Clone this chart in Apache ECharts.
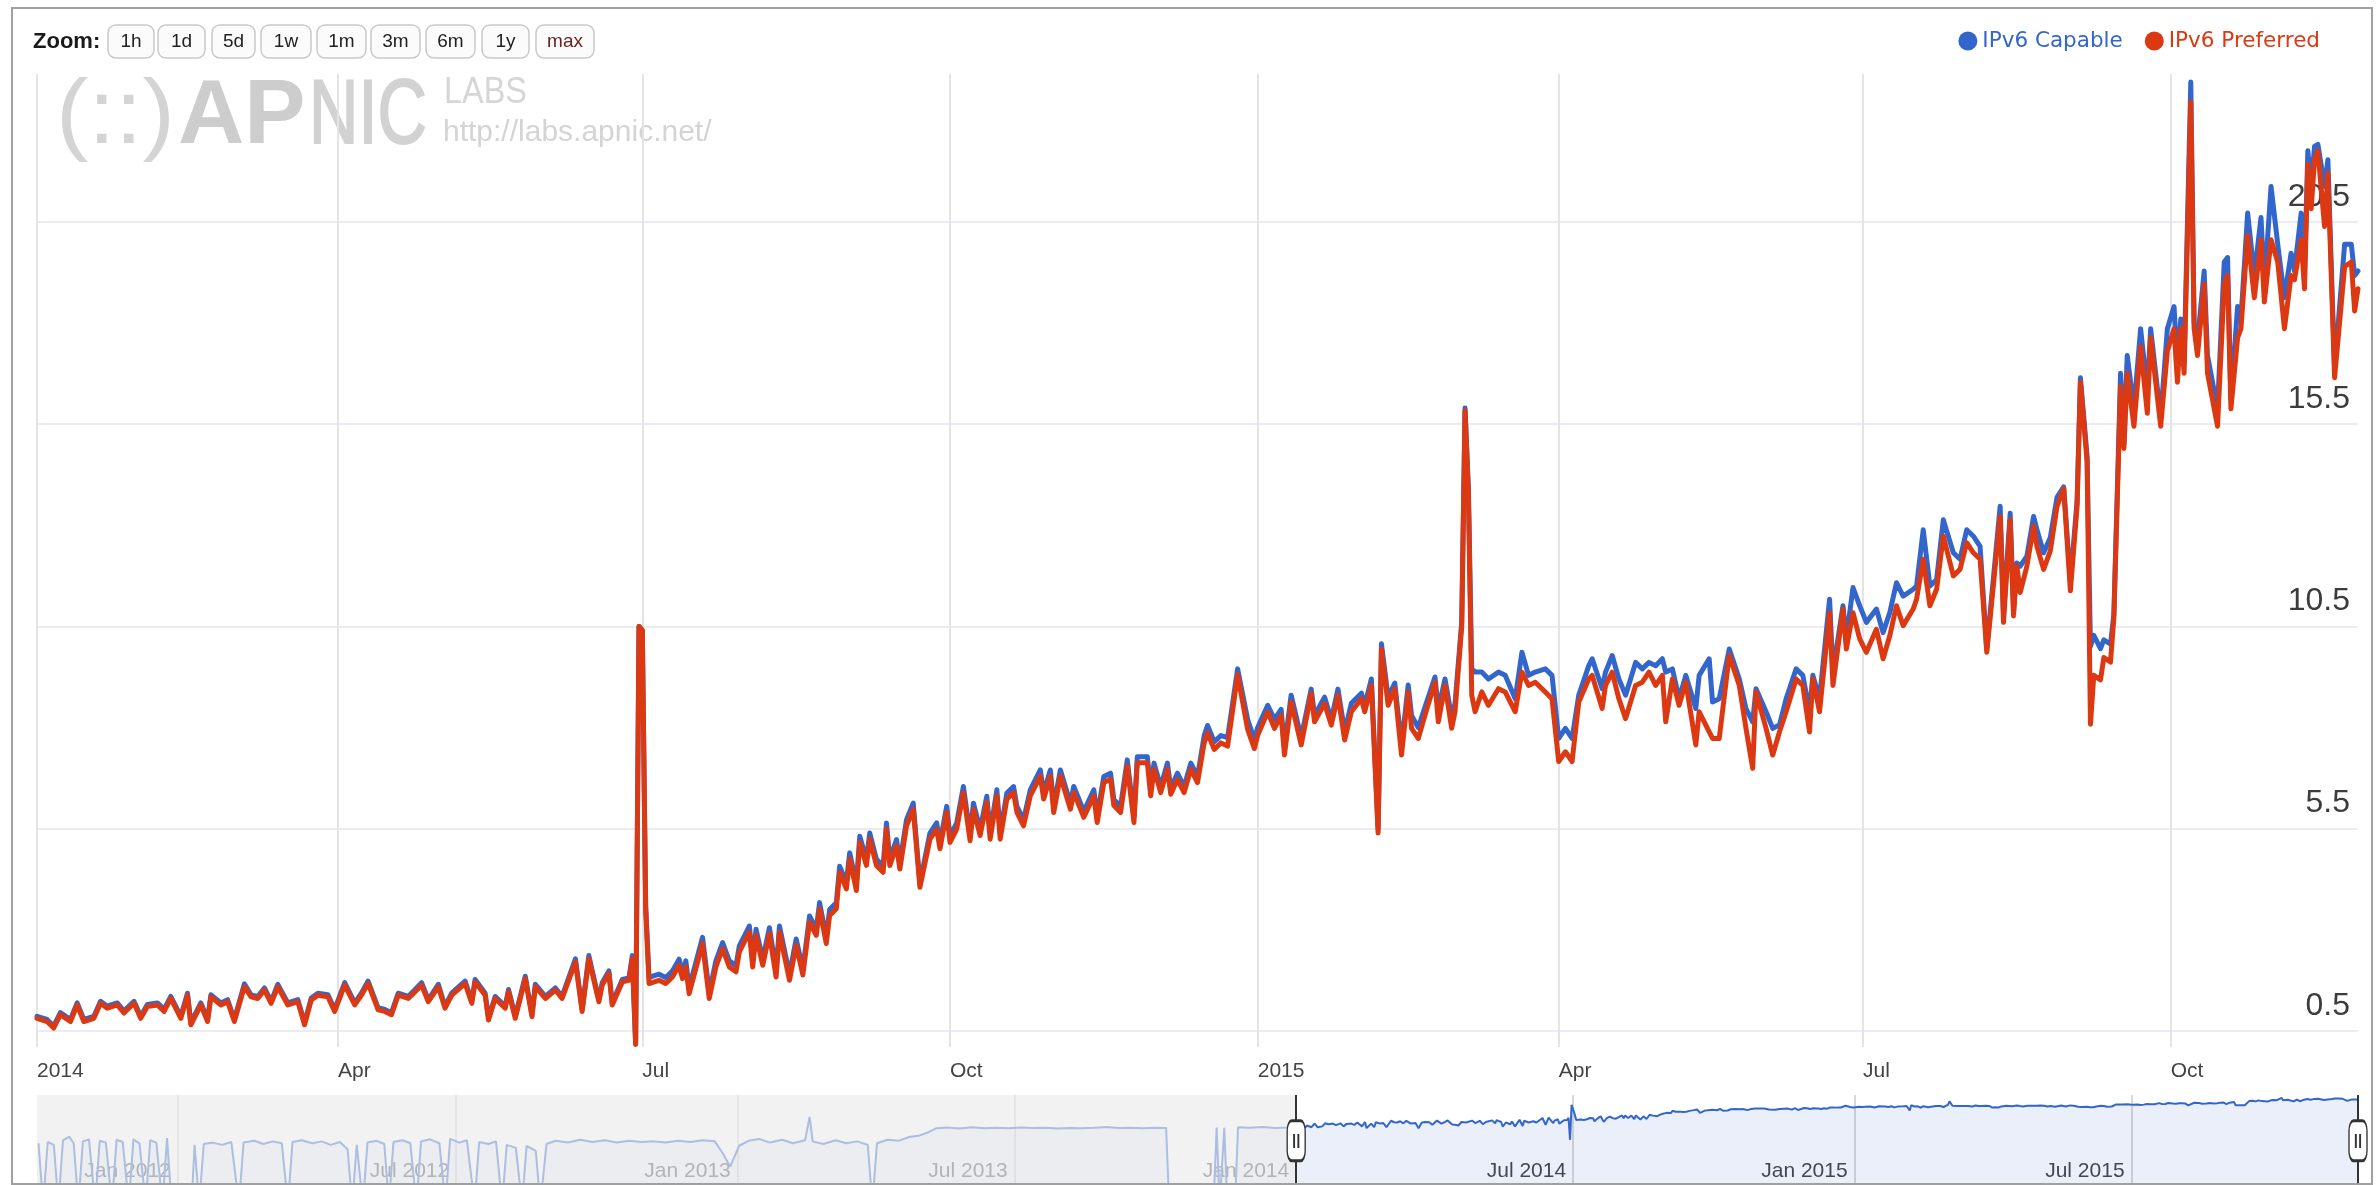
<!DOCTYPE html>
<html>
<head>
<meta charset="utf-8">
<script src="https://cdn.jsdelivr.net/npm/echarts@6/dist/echarts.min.js"></script>
<style>
html,body{margin:0;padding:0;background:#fff;}
#c{width:2377px;height:1185px;}
</style>
</head>
<body>
<div id="c"></div>
<script>
// ---- main chart data ----
const dates = [
'2014-01-01','2014-01-04','2014-01-06','2014-01-08','2014-01-11','2014-01-13','2014-01-15','2014-01-18','2014-01-20','2014-01-22','2014-01-25','2014-01-27','2014-01-30',
'2014-02-01','2014-02-03','2014-02-06','2014-02-08','2014-02-10','2014-02-13','2014-02-15','2014-02-16','2014-02-19','2014-02-21','2014-02-22','2014-02-25','2014-02-27',
'2014-03-01','2014-03-04','2014-03-06','2014-03-08','2014-03-10','2014-03-12','2014-03-14','2014-03-17','2014-03-20','2014-03-22','2014-03-24','2014-03-26','2014-03-29','2014-03-31',
'2014-04-03','2014-04-06','2014-04-08','2014-04-10','2014-04-13','2014-04-15','2014-04-17','2014-04-19','2014-04-22','2014-04-26','2014-04-28',
'2014-05-01','2014-05-03','2014-05-05','2014-05-09','2014-05-11','2014-05-12','2014-05-15','2014-05-16','2014-05-18','2014-05-21','2014-05-22','2014-05-24','2014-05-27','2014-05-29','2014-05-30',
'2014-06-02','2014-06-05','2014-06-07','2014-06-11','2014-06-13','2014-06-15','2014-06-18','2014-06-19','2014-06-21','2014-06-22','2014-06-25','2014-06-27','2014-06-28','2014-06-29','2014-06-30',
'2014-07-01','2014-07-02','2014-07-03','2014-07-06','2014-07-08','2014-07-10','2014-07-12','2014-07-13','2014-07-14','2014-07-15','2014-07-17','2014-07-19','2014-07-21','2014-07-23','2014-07-25','2014-07-27','2014-07-29','2014-07-30',
'2014-08-02','2014-08-03','2014-08-04','2014-08-06','2014-08-08','2014-08-10','2014-08-11','2014-08-14','2014-08-16','2014-08-18','2014-08-20','2014-08-22','2014-08-23','2014-08-25','2014-08-26','2014-08-28','2014-08-29','2014-08-31',
'2014-09-01','2014-09-03','2014-09-04','2014-09-06','2014-09-07','2014-09-09','2014-09-11','2014-09-12','2014-09-13','2014-09-15','2014-09-16','2014-09-18','2014-09-20','2014-09-22','2014-09-25','2014-09-27','2014-09-28','2014-09-30',
'2014-10-01','2014-10-03','2014-10-05','2014-10-07','2014-10-08','2014-10-10','2014-10-12','2014-10-13','2014-10-15','2014-10-16','2014-10-18','2014-10-20','2014-10-21','2014-10-23','2014-10-25','2014-10-28','2014-10-29','2014-10-31',
'2014-11-01','2014-11-03','2014-11-06','2014-11-07','2014-11-10','2014-11-13','2014-11-14','2014-11-16','2014-11-18','2014-11-19','2014-11-21','2014-11-23','2014-11-25','2014-11-26','2014-11-29','2014-11-30',
'2014-12-01','2014-12-03','2014-12-05','2014-12-06','2014-12-08','2014-12-10','2014-12-12','2014-12-14','2014-12-16','2014-12-17','2014-12-19','2014-12-21','2014-12-23','2014-12-26','2014-12-29','2014-12-31',
'2015-01-01','2015-01-04','2015-01-06','2015-01-08','2015-01-09','2015-01-11','2015-01-14','2015-01-17','2015-01-18','2015-01-21','2015-01-23','2015-01-25','2015-01-27','2015-01-29',
'2015-02-01','2015-02-02','2015-02-04','2015-02-06','2015-02-07','2015-02-09','2015-02-11','2015-02-13','2015-02-15','2015-02-16','2015-02-18','2015-02-20','2015-02-23','2015-02-24','2015-02-26','2015-02-28',
'2015-03-01','2015-03-03','2015-03-04','2015-03-05','2015-03-06','2015-03-07','2015-03-09','2015-03-11','2015-03-14','2015-03-16','2015-03-19','2015-03-21','2015-03-23','2015-03-25','2015-03-28','2015-03-30',
'2015-04-01','2015-04-03','2015-04-05','2015-04-07','2015-04-10','2015-04-11','2015-04-14','2015-04-15','2015-04-17','2015-04-19','2015-04-21','2015-04-24','2015-04-26','2015-04-28','2015-04-30',
'2015-05-02','2015-05-03','2015-05-05','2015-05-07','2015-05-09','2015-05-12','2015-05-13','2015-05-16','2015-05-17','2015-05-19','2015-05-22','2015-05-25','2015-05-27','2015-05-29','2015-05-30',
'2015-06-02','2015-06-04','2015-06-06','2015-06-08','2015-06-11','2015-06-13','2015-06-15','2015-06-16','2015-06-18','2015-06-21','2015-06-22','2015-06-25','2015-06-26','2015-06-28','2015-06-30',
'2015-07-02','2015-07-05','2015-07-07','2015-07-09','2015-07-11','2015-07-13','2015-07-16','2015-07-17','2015-07-19','2015-07-21','2015-07-23','2015-07-25','2015-07-28','2015-07-30',
'2015-08-01','2015-08-03','2015-08-05','2015-08-07','2015-08-11','2015-08-12','2015-08-14','2015-08-15','2015-08-16','2015-08-17','2015-08-19','2015-08-21','2015-08-22','2015-08-24','2015-08-26','2015-08-28','2015-08-30',
'2015-09-01','2015-09-03','2015-09-04','2015-09-06','2015-09-07','2015-09-08','2015-09-10','2015-09-11','2015-09-13','2015-09-14','2015-09-16','2015-09-17','2015-09-18','2015-09-20','2015-09-22','2015-09-24','2015-09-25','2015-09-28','2015-09-30',
'2015-10-02','2015-10-03','2015-10-04','2015-10-05','2015-10-07','2015-10-08','2015-10-09','2015-10-11','2015-10-12','2015-10-15','2015-10-17','2015-10-18','2015-10-19','2015-10-21','2015-10-22','2015-10-24','2015-10-26','2015-10-28','2015-10-29','2015-10-31',
'2015-11-02','2015-11-04','2015-11-06','2015-11-07','2015-11-09','2015-11-10','2015-11-11','2015-11-12','2015-11-13','2015-11-14','2015-11-16','2015-11-17','2015-11-19','2015-11-22','2015-11-24','2015-11-25','2015-11-26'
];
const capable = [
0.86,0.78,0.62,0.95,0.78,1.19,0.78,0.86,1.23,1.11,1.19,0.99,1.23,
0.86,1.15,1.19,1.03,1.35,0.86,1.43,0.70,1.19,0.78,1.39,1.19,1.27,
0.78,1.66,1.39,1.35,1.56,1.23,1.65,1.19,1.27,0.70,1.31,1.43,1.39,1.03,
1.69,1.19,1.43,1.73,1.07,1.03,0.95,1.43,1.35,1.69,1.27,
1.65,1.11,1.43,1.73,1.23,1.77,1.43,0.82,1.35,1.11,1.52,0.86,1.85,0.90,1.65,
1.35,1.56,1.35,2.28,1.03,2.36,1.27,1.69,1.98,1.19,1.77,1.81,2.36,0.18,10.5,
10.4,3.6,1.82,1.90,1.82,1.98,2.27,1.94,2.23,1.57,2.19,2.81,1.45,2.23,2.68,2.23,2.11,2.60,
3.09,2.23,3.01,2.27,3.05,1.98,3.09,1.90,2.77,2.03,3.34,3.01,3.67,2.81,3.50,3.67,4.57,4.16,
4.90,4.12,5.31,4.74,5.39,4.74,4.57,5.64,4.74,5.23,4.65,5.72,6.13,4.15,5.39,5.64,5.15,6.05,
5.31,5.64,6.54,5.35,6.13,5.48,6.30,5.39,6.46,5.39,6.38,6.54,6.05,5.72,6.46,6.95,6.38,6.95,
6.05,6.95,6.13,6.54,5.93,6.46,5.80,6.79,6.87,6.22,6.05,7.20,5.80,7.28,7.28,6.46,
7.12,6.54,7.12,6.50,6.87,6.54,7.12,6.79,7.80,8.05,7.65,7.80,7.75,9.45,8.20,7.70,
8.00,8.55,8.20,8.45,7.50,8.80,7.75,8.95,8.30,8.75,8.20,8.95,7.90,8.60,
8.85,8.55,9.20,5.50,10.07,8.75,9.10,7.55,9.05,8.30,8.00,8.50,9.25,8.45,9.20,8.25,
8.60,10.6,15.9,13.9,9.45,9.37,9.37,9.20,9.37,9.29,8.71,9.86,9.29,9.37,9.45,9.29,
7.73,7.98,7.73,8.80,9.53,9.70,8.96,9.37,9.78,9.20,8.80,9.61,9.45,9.61,9.53,
9.70,9.37,9.45,8.71,9.29,8.47,9.29,9.70,8.63,8.71,9.94,9.20,8.47,8.14,8.96,
8.39,7.98,8.06,8.71,9.45,9.29,8.39,9.29,8.71,11.17,9.37,11.01,10.19,11.46,11.01,
10.60,10.93,10.35,10.84,11.58,11.25,11.42,11.50,12.89,11.50,11.66,13.14,12.32,12.16,
12.89,12.73,12.48,9.94,13.47,10.80,13.30,10.90,12.07,11.99,12.24,13.22,12.89,12.32,12.70,13.69,13.95,
11.60,13.60,16.65,14.70,10.00,10.28,9.95,10.17,10.06,10.80,16.76,15.00,17.20,15.88,17.86,16.32,17.86,15.66,17.86,
18.41,16.90,18.10,17.00,23.96,18.00,17.53,19.29,17.20,15.88,19.51,19.62,16.10,18.41,18.10,20.72,19.18,20.61,18.90,21.38,
19.95,18.63,19.73,19.29,20.72,19.20,22.26,21.38,22.37,22.42,21.38,22.04,16.87,19.95,19.95,19.18,19.29
];
const preferred = [
0.81,0.73,0.57,0.90,0.73,1.14,0.73,0.81,1.18,1.06,1.14,0.94,1.18,
0.81,1.10,1.14,0.98,1.30,0.81,1.38,0.65,1.14,0.73,1.34,1.14,1.22,
0.73,1.59,1.34,1.30,1.51,1.18,1.59,1.14,1.22,0.65,1.26,1.38,1.34,0.98,
1.63,1.14,1.38,1.67,1.02,0.98,0.90,1.38,1.30,1.63,1.22,
1.59,1.06,1.38,1.67,1.18,1.71,1.38,0.77,1.30,1.06,1.47,0.81,1.79,0.85,1.59,
1.30,1.51,1.30,2.20,0.98,2.28,1.22,1.63,1.92,1.14,1.71,1.75,2.28,0.16,10.5,
10.4,3.5,1.67,1.75,1.67,1.83,2.12,1.79,2.08,1.42,2.04,2.66,1.30,2.08,2.53,2.08,1.96,2.45,
2.94,2.08,2.86,2.12,2.90,1.83,2.94,1.75,2.62,1.88,3.19,2.86,3.52,2.66,3.35,3.52,4.42,4.01,
4.75,3.97,5.16,4.59,5.24,4.59,4.42,5.49,4.59,5.08,4.50,5.57,5.98,4.05,5.24,5.49,5.00,5.90,
5.16,5.49,6.39,5.20,5.98,5.33,6.15,5.24,6.31,5.24,6.23,6.39,5.90,5.57,6.31,6.80,6.23,6.80,
5.90,6.80,5.98,6.39,5.78,6.31,5.65,6.64,6.72,6.07,5.90,7.05,5.65,7.13,7.13,6.31,
6.97,6.39,6.97,6.35,6.72,6.39,6.97,6.64,7.62,7.87,7.46,7.62,7.54,9.31,7.95,7.48,
7.81,8.39,7.98,8.30,7.32,8.63,7.57,8.84,8.14,8.59,8.06,8.80,7.69,8.39,
8.71,8.39,9.04,5.39,9.94,8.55,8.96,7.32,8.88,7.98,7.73,8.30,9.12,8.14,9.04,7.98,
8.39,10.5,15.84,13.8,8.80,8.39,8.88,8.55,8.96,8.88,8.39,9.37,9.04,9.12,8.88,8.71,
7.16,7.40,7.16,8.63,9.20,9.29,8.47,9.04,9.37,8.71,8.22,9.04,9.12,9.37,9.04,
9.29,8.14,9.20,8.55,9.12,7.57,8.39,7.89,7.73,7.73,9.78,9.04,7.98,6.99,8.88,
7.98,7.32,7.89,8.39,9.20,9.04,7.89,9.20,8.39,10.84,9.04,10.93,9.94,10.84,10.19,
9.86,10.43,9.70,10.27,11.01,10.52,10.93,11.17,12.16,11.01,11.42,12.73,11.75,11.91,
12.57,12.32,12.16,9.86,13.22,10.60,13.14,10.76,11.99,11.34,11.99,12.98,12.48,11.91,12.37,13.47,13.91,
11.38,13.47,16.54,14.57,8.08,9.29,9.18,9.73,9.62,10.72,16.43,14.90,16.76,15.45,17.42,15.77,17.64,15.45,17.31,
17.86,16.54,17.86,16.76,23.47,17.86,17.20,18.96,16.76,15.45,18.96,19.18,15.88,17.64,17.86,20.17,18.63,20.06,18.52,20.06,
19.51,17.86,19.18,19.07,20.06,18.85,21.93,20.83,22.04,22.26,20.39,21.71,16.65,19.40,19.51,18.30,18.85
];
// navigator: earlier history (IPv6 Capable), near-zero drops shown as 0.0001
const navOldDates = [
'2011-10-02','2011-10-05','2011-10-08','2011-10-12','2011-10-15','2011-10-18','2011-10-22','2011-10-25','2011-10-28','2011-10-31',
'2011-11-04','2011-11-08','2011-11-11','2011-11-15','2011-11-19','2011-11-22','2011-11-26','2011-11-30',
'2011-12-03','2011-12-07','2011-12-11','2011-12-14','2011-12-18','2011-12-22','2011-12-25','2011-12-28',
'2012-01-10','2012-01-12','2012-01-15','2012-01-18','2012-01-24','2012-01-30','2012-02-05','2012-02-10','2012-02-13','2012-02-20','2012-02-26',
'2012-03-03','2012-03-09','2012-03-13','2012-03-16','2012-03-22','2012-03-29','2012-04-04','2012-04-10','2012-04-16','2012-04-21','2012-04-24','2012-04-27',
'2012-05-01','2012-05-04','2012-05-10','2012-05-15','2012-05-18','2012-05-21','2012-05-27','2012-06-01','2012-06-05','2012-06-08','2012-06-14','2012-06-20','2012-06-24','2012-06-27',
'2012-07-03','2012-07-08','2012-07-13','2012-07-16','2012-07-22','2012-07-27','2012-07-31','2012-08-03','2012-08-09','2012-08-13','2012-08-16','2012-08-22','2012-08-25','2012-08-29',
'2012-09-04','2012-09-12','2012-09-20','2012-09-28','2012-10-06','2012-10-14','2012-10-22','2012-10-30','2012-11-07','2012-11-15','2012-11-23','2012-12-01','2012-12-09','2012-12-17','2012-12-22','2012-12-27',
'2013-01-02','2013-01-08','2013-01-15','2013-01-22','2013-01-30','2013-02-06','2013-02-14','2013-02-17','2013-02-19','2013-02-26','2013-03-06','2013-03-13','2013-03-20','2013-03-27','2013-03-30',
'2013-04-02','2013-04-09','2013-04-16','2013-04-23','2013-04-30','2013-05-06','2013-05-11','2013-05-18','2013-05-26','2013-06-03','2013-06-11','2013-06-19','2013-06-27',
'2013-07-05','2013-07-13','2013-07-21','2013-07-29','2013-08-06','2013-08-14','2013-08-22','2013-08-30','2013-09-07','2013-09-15','2013-09-23','2013-10-01','2013-10-08','2013-10-10',
'2013-11-08','2013-11-10','2013-11-12','2013-11-15','2013-11-17','2013-11-22','2013-11-24','2013-12-02','2013-12-10','2013-12-18','2013-12-26'
];
const navOldValues = [
0.12,0.0001,0.14,0.10,0.0001,0.17,0.26,0.12,0.0001,0.15,
0.19,0.0001,0.16,0.13,0.0001,0.18,0.14,0.0001,
0.19,0.12,0.0001,0.17,0.13,0.0001,0.22,0.0001,
0.0001,0.10,0.0001,0.11,0.13,0.10,0.14,0.0001,0.13,0.16,0.11,
0.15,0.12,0.0001,0.14,0.17,0.12,0.15,0.10,0.14,0.06,0.0001,0.10,
0.0001,0.13,0.16,0.11,0.0001,0.14,0.17,0.12,0.0001,0.15,0.19,0.12,0.0001,0.20,
0.13,0.17,0.0001,0.14,0.11,0.15,0.0001,0.10,0.07,0.0001,0.09,0.05,0.0001,0.11,
0.16,0.13,0.18,0.14,0.17,0.13,0.16,0.14,0.15,0.13,0.16,0.14,0.17,0.15,0.04,0.008,
0.09,0.16,0.20,0.13,0.18,0.12,0.17,2.6,0.15,0.11,0.17,0.12,0.15,0.10,0.0001,
0.12,0.18,0.16,0.25,0.30,0.45,0.70,0.75,0.68,0.78,0.70,0.74,0.69,
0.76,0.71,0.73,0.68,0.72,0.70,0.74,0.80,0.71,0.73,0.70,0.74,0.72,0.0001,
0.0001,0.75,0.0001,0.72,0.0001,0.0001,0.78,0.74,0.79,0.72,0.76
];
const xTickDates = ['2014-01-01','2014-04-01','2014-07-01','2014-10-01','2015-01-01','2015-04-01','2015-07-01','2015-10-01'];
const xTickLabels = ['2014','Apr','Jul','Oct','2015','Apr','Jul','Oct'];
const yTicks = [0.5, 5.5, 10.5, 15.5, 20.5];
const navTickDates = ['2012-01-01','2012-07-01','2013-01-01','2013-07-01','2014-01-01','2014-07-01','2015-01-01','2015-07-01'];
const navTickLabels = ['Jan 2012','Jul 2012','Jan 2013','Jul 2013','Jan 2014','Jul 2014','Jan 2015','Jul 2015'];
const zoomButtons = ['1h','1d','5d','1w','1m','3m','6m','1y','max'];

// ---- helpers ----
function ts(s){ const p = s.split('-'); return new Date(+p[0], +p[1]-1, +p[2]).getTime(); }
const xTickVals = xTickDates.map(ts);
const navTickVals = navTickDates.map(ts);
const capData = dates.map((d,i)=>[ts(d), capable[i]]);
const prefData = dates.map((d,i)=>[ts(d), preferred[i]]);
const navData = navOldDates.map((d,i)=>[ts(d), navOldValues[i]]).concat(capData);
const selStart = ts(dates[0]);
const selEnd = ts(dates[dates.length-1]);
const navStart = ts('2011-10-01');

// ---- decorations: zoom buttons, watermark, frame ----
const btnX = [108,158,212,261,317,371,426,482,536];
const btnW = [46,47,43,50,49,49,49,47,58];
const wmFont = '"Liberation Sans", Arial';
const graphics = [
  {type:'rect', shape:{x:12,y:8,width:2360,height:1176}, style:{fill:'none', stroke:'#a0a0a0', lineWidth:2}, silent:true, z:100},
  {type:'text', x:33, y:42, style:{text:'Zoom:', fill:'#1a1a1a', font:'bold 22px ' + wmFont, textVerticalAlign:'middle'}},
  {type:'text', x:56, y:118, style:{text:'(::)', fill:'#d4d4d4', font:'90px ' + wmFont, textVerticalAlign:'middle'}, scaleX:1.08},
  {type:'text', x:178, y:118, style:{text:'AP', fill:'#cdcdcd', font:'bold 90px ' + wmFont, textVerticalAlign:'middle'}, scaleX:1.02},
  {type:'text', x:309, y:118, style:{text:'NIC', fill:'#d2d2d2', stroke:'#d2d2d2', lineWidth:2, font:'90px ' + wmFont, textVerticalAlign:'middle'}, scaleX:0.76},
  {type:'text', x:444, y:93, style:{text:'LABS', fill:'#d6d6d6', font:'36px ' + wmFont, textVerticalAlign:'middle'}, scaleX:0.9},
  {type:'text', x:443, y:133, style:{text:'http://labs.apnic.net/', fill:'#d4d4d4', font:'30px ' + wmFont, textVerticalAlign:'middle'}}
];
zoomButtons.forEach((b,i)=>{
  graphics.push({type:'rect', shape:{x:btnX[i], y:25, width:btnW[i], height:33, r:8}, style:{fill:'#fbfbfb', stroke:'#c9c9c9', lineWidth:1.5}});
  graphics.push({type:'text', x:btnX[i]+btnW[i]/2, y:42, style:{text:b, fill: b==='max' ? '#6b2323' : '#222', font:'19px ' + wmFont, textAlign:'center', textVerticalAlign:'middle'}});
});

const chart = echarts.init(document.getElementById('c'), null, {renderer:'canvas'});
chart.setOption({
  animation:false,
  backgroundColor:'#ffffff',
  graphic: graphics,
  legend:{
    data:[{name:'IPv6 Capable', textStyle:{color:'#3366cc'}},{name:'IPv6 Preferred', textStyle:{color:'#dc3912'}}],
    icon:'circle', itemWidth:19, itemHeight:19, right:52, top:25, itemGap:22,
    selectedMode:false,
    textStyle:{fontFamily:'"DejaVu Sans"', fontSize:21.5}
  },
  grid:[
    {left:37, right:19, top:74, bottom:138},
    {left:37, right:19, top:1095, bottom:0}
  ],
  xAxis:[
    {type:'value', gridIndex:0, min:selStart, max:selEnd, scale:true,
     axisLine:{show:false}, axisTick:{show:false, customValues:xTickVals},
     axisLabel:{customValues:xTickVals, align:'left', margin:14, fontSize:21, color:'#444', fontFamily:wmFont,
       showMinLabel:true, showMaxLabel:true,
       formatter:function(v){ const i = xTickVals.indexOf(v); return i>=0 ? xTickLabels[i] : ''; }},
     splitLine:{show:true, lineStyle:{color:'#e4e4e4', width:2}}},
    {type:'value', gridIndex:1, min:navStart, max:selEnd, scale:true,
     axisLine:{show:false}, axisTick:{show:false, customValues:navTickVals},
     axisLabel:{customValues:navTickVals, inside:true, align:'right', margin:3, padding:[0,7,0,0], fontSize:21, color:'#444', fontFamily:wmFont,
       formatter:function(v){ const i = navTickVals.indexOf(v); return i>=0 ? navTickLabels[i] : ''; }},
     splitLine:{show:true, lineStyle:{color:'#cdcdcd', width:1.5}}}
  ],
  yAxis:[
    {type:'value', gridIndex:0, position:'right', min:0.1, max:24.16,
     axisLine:{show:false}, axisTick:{show:false, customValues:yTicks},
     axisLabel:{customValues:yTicks, inside:true, verticalAlign:'bottom', padding:[0,0,9,0], margin:8, fontSize:32, color:'#3c3c3c', fontFamily:wmFont,
       formatter:function(v){ return Number(v).toFixed(1); }},
     splitLine:{show:true, lineStyle:{color:'#ebebf4', width:2}}},
    {type:'log', gridIndex:1, min:0.00093, max:33.3, show:false, splitLine:{show:false}}
  ],
  series:[
    {name:'IPv6 Capable', type:'line', xAxisIndex:0, yAxisIndex:0, data:capData, showSymbol:false, symbol:'none', clip:true,
     lineStyle:{color:'#3366cc', width:5, join:'round', cap:'round'}, itemStyle:{color:'#3366cc'}, z:2},
    {name:'IPv6 Preferred', type:'line', xAxisIndex:0, yAxisIndex:0, data:prefData, showSymbol:false, symbol:'none', clip:true,
     lineStyle:{color:'#dc3912', width:5, join:'round', cap:'round'}, itemStyle:{color:'#dc3912'}, z:3},
    {name:'nav', type:'line', xAxisIndex:1, yAxisIndex:1, data:navData, showSymbol:false, symbol:'none', clip:true,
     lineStyle:{color:'#3366cc', width:2}, itemStyle:{color:'#3366cc'},
     areaStyle:{color:'#3366cc', opacity:0.1, origin:'start'}, z:2,
     markArea:{silent:true, z:3, itemStyle:{color:'rgba(236,236,236,0.66)'}, data:[[{xAxis:navStart},{xAxis:selStart}]]},
     markLine:{silent:true, symbol:'none', z:5, label:{show:false}, lineStyle:{color:'#333', width:2, type:'solid'},
       data:[{xAxis:selStart},{xAxis:selEnd}]},
     markPoint:{silent:true, z:6, symbol:'roundRect', symbolSize:[18,40],
       itemStyle:{color:'#ffffff', borderColor:'#333', borderWidth:2},
       label:{show:true, formatter:'||', color:'#333', fontSize:15, fontWeight:'bold'},
       data:[{coord:[selStart, 0.16]},{coord:[selEnd, 0.16]}]}}
  ]
});
</script>
</body>
</html>
